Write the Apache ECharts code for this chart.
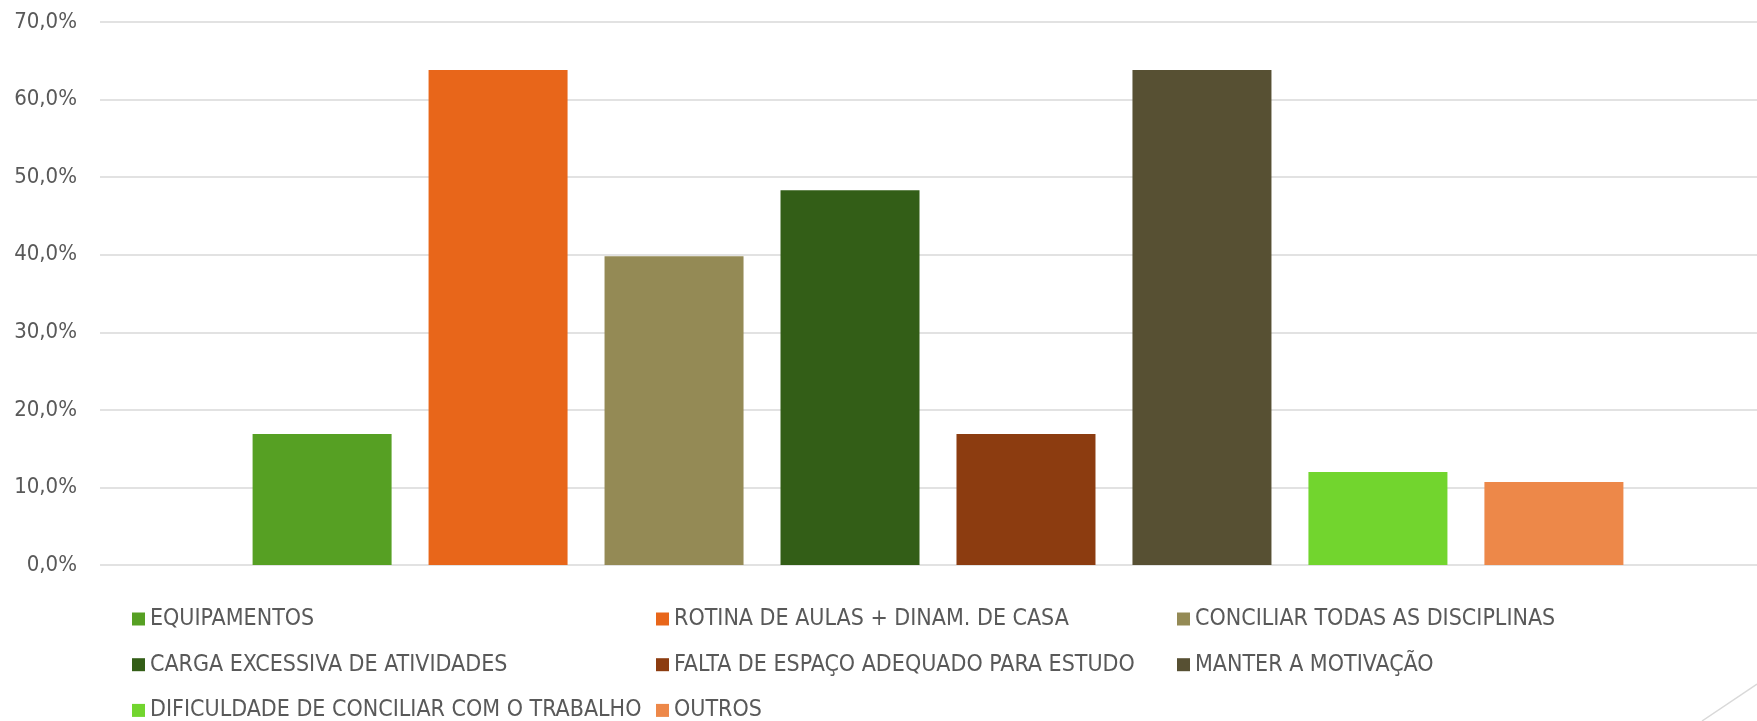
<!DOCTYPE html>
<html>
<head>
<meta charset="utf-8">
<script src="https://cdn.jsdelivr.net/npm/echarts@6/dist/echarts.min.js"></script>
<style>
html,body{margin:0;padding:0;background:#fff;}
#chart{width:1757px;height:721px;}
</style>
</head>
<body>
<div id="chart"></div>
<script>
const categories = [''];
const seriesNames = [
  'EQUIPAMENTOS',
  'ROTINA DE AULAS + DINAM. DE CASA',
  'CONCILIAR TODAS AS DISCIPLINAS',
  'CARGA EXCESSIVA DE ATIVIDADES',
  'FALTA DE ESPAÇO ADEQUADO PARA ESTUDO',
  'MANTER A MOTIVAÇÃO',
  'DIFICULDADE DE CONCILIAR COM O TRABALHO',
  'OUTROS'
];
const seriesValues = [16.9, 63.8, 39.8, 48.3, 16.9, 63.8, 12.0, 10.7];
const seriesColors = ['#56A023', '#E8661A', '#948A55', '#335E17', '#8C3C10', '#575033', '#72D52E', '#ED8849'];
const yTicks = [0, 10, 20, 30, 40, 50, 60, 70];
const legendColumns = [
  ['EQUIPAMENTOS', 'CARGA EXCESSIVA DE ATIVIDADES', 'DIFICULDADE DE CONCILIAR COM O TRABALHO'],
  ['ROTINA DE AULAS + DINAM. DE CASA', 'FALTA DE ESPAÇO ADEQUADO PARA ESTUDO', 'OUTROS'],
  ['CONCILIAR TODAS AS DISCIPLINAS', 'MANTER A MOTIVAÇÃO']
];

const FONT = '"Liberation Sans Narrow", "DejaVu Sans Condensed", "Liberation Sans", sans-serif';
const TEXT = '#595959';
const legendLefts = [132, 656, 1177];
const legendRowCenters = [619, 664.7, 710.4];

const yMin = yTicks[0], yMax = yTicks[yTicks.length - 1], yStep = yTicks[1] - yTicks[0];

const legends = [];
legendColumns.forEach((col, ci) => {
  col.forEach((name, ri) => {
    legends.push({
      data: [name],
      orient: 'horizontal',
      left: legendLefts[ci],
      top: legendRowCenters[ri] - 12,
      padding: 0,
      itemWidth: 13,
      itemHeight: 13,
      icon: 'rect',
      selectedMode: false,
      textStyle: {color: TEXT, fontFamily: FONT, fontSize: 23, lineHeight: 24}
    });
  });
});

const chart = echarts.init(document.getElementById('chart'), null, {renderer: 'canvas'});
const option = {
  backgroundColor: '#ffffff',
  animation: false,
  grid: [
    {left: 100, right: 0, top: 22, height: 543, containLabel: false},
    {left: 119, right: 0, top: 22, height: 543, containLabel: false}
  ],
  xAxis: [0, 1].map(i => ({
    type: 'category',
    gridIndex: i,
    data: categories,
    axisLine: {show: false},
    axisTick: {show: false},
    axisLabel: {show: false},
    splitLine: {show: false}
  })),
  yAxis: [
    {
      type: 'value',
      gridIndex: 0,
      min: yMin, max: yMax, interval: yStep,
      axisLine: {show: false},
      axisTick: {show: false},
      splitLine: {show: true, lineStyle: {color: '#D9D9D9', width: 1.5}},
      axisLabel: {
        margin: 23,
        color: TEXT,
        fontFamily: FONT,
        fontSize: 22,
        formatter: v => v.toFixed(1).replace('.', ',') + '%'
      }
    },
    {
      type: 'value',
      gridIndex: 1,
      min: yMin, max: yMax, interval: yStep,
      show: false,
      splitLine: {show: false}
    }
  ],
  legend: legends,
  series: seriesNames.map((name, i) => ({
    name: name,
    type: 'bar',
    xAxisIndex: 1,
    yAxisIndex: 1,
    data: [seriesValues[i]],
    barWidth: 139,
    barGap: '26.6%',
    itemStyle: {color: seriesColors[i]}
  })),
  graphic: [{
    type: 'line',
    shape: {x1: 1702, y1: 721, x2: 1757, y2: 684},
    style: {stroke: '#D9D9D9', lineWidth: 1.5},
    silent: true
  }]
};
chart.setOption(option);
</script>
</body>
</html>
